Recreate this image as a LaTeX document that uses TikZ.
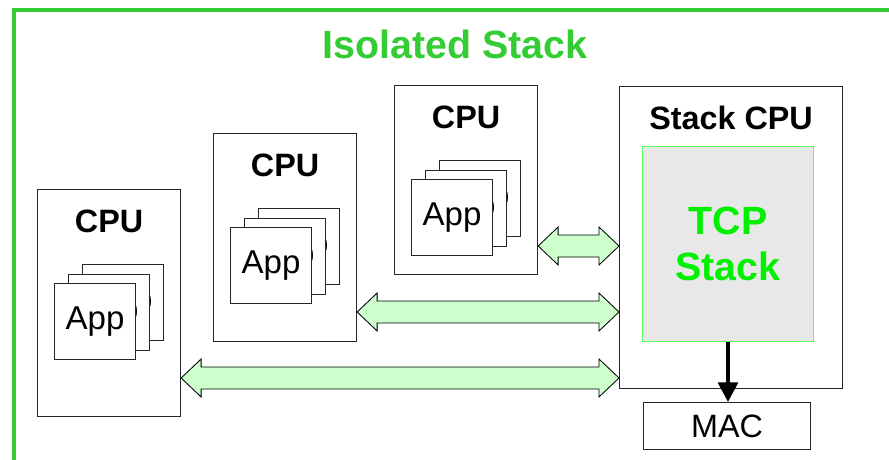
\documentclass[tikz,border=0pt]{standalone}
\usepackage{fontspec}
\setmainfont{Liberation Sans}
\usetikzlibrary{arrows.meta,calc}

\definecolor{frameGreen}{RGB}{51,204,51}
\definecolor{stackGreen}{RGB}{0,240,0}
\definecolor{stackBorder}{RGB}{90,255,90}
\definecolor{stackFill}{HTML}{E8E8E8}
\definecolor{linkFill}{HTML}{CCFFCC}

\newcommand{\pxUnit}{0.025cm}

% double block arrow between two tips on the same level
\newcommand{\linkArrow}[2]{%
  \draw[linkStyle] (#1) -- ($(#1)+(20,-19)$) -- ($(#1)+(20,-11)$) -- ($(#2)+(-20,-11)$)
    -- ($(#2)+(-20,-19)$) -- (#2) -- ($(#2)+(-20,19)$) -- ($(#2)+(-20,11)$)
    -- ($(#1)+(20,11)$) -- ($(#1)+(20,19)$) -- cycle;}

\tikzset{
  cpuBox/.style={draw=black!85, line width=0.8pt, fill=white, anchor=north west, inner sep=0pt},
  cpuLabel/.style={font=\bfseries\fontsize{23}{27}\selectfont, anchor=base, inner sep=0pt},
  appBox/.style={cpuBox, minimum width=81*\pxUnit, minimum height=76*\pxUnit, font=\fontsize{23.5}{28}\selectfont},
  linkStyle/.style={draw=black, line width=0.6pt, fill=linkFill, line join=miter},
}

\begin{document}
\begin{tikzpicture}[x=\pxUnit, y=-\pxUnit]
    \useasboundingbox (0,0) rectangle (889,460);

    % Frame and title
    \draw[frameGreen, line width=2.8pt, line join=miter] (14,460) -- (14,10) -- (889,10);
    \node[font=\bfseries\fontsize{28}{34}\selectfont, text=frameGreen, anchor=base] (title) at (455,58) {Isolated Stack};

    % Application CPUs
    \node[cpuBox, minimum width=143*\pxUnit, minimum height=227*\pxUnit] (cpuA) at (37,189) {};
    \node[cpuLabel] (cpuAlabel) at ($(cpuA.north)+(0,43)$) {CPU};
    \foreach \i in {2,1,0}
        \node[appBox] (appA\i) at ({54+14*\i},{283-9.5*\i}) {App};

    \node[cpuBox, minimum width=143*\pxUnit, minimum height=208*\pxUnit] (cpuB) at (213,133) {};
    \node[cpuLabel] (cpuBlabel) at ($(cpuB.north)+(0,43)$) {CPU};
    \foreach \i in {2,1,0}
        \node[appBox] (appB\i) at ({230+14*\i},{227-9.5*\i}) {App};

    \node[cpuBox, minimum width=143*\pxUnit, minimum height=189*\pxUnit] (cpuC) at (394,85) {};
    \node[cpuLabel] (cpuClabel) at ($(cpuC.north)+(0,43)$) {CPU};
    \foreach \i in {2,1,0}
        \node[appBox] (appC\i) at ({411+14*\i},{179-9.5*\i}) {App};

    % Stack CPU with the TCP stack
    \node[cpuBox, minimum width=223*\pxUnit, minimum height=302*\pxUnit] (stackCpu) at (619,86) {};
    \node[cpuLabel] (stackLabel) at ($(stackCpu.north)+(0,43)$) {Stack CPU};
    \node[cpuBox, draw=stackBorder, fill=stackFill, line width=0.7pt,
          minimum width=171*\pxUnit, minimum height=195*\pxUnit,
          align=center, text=stackGreen, font=\bfseries\fontsize{28}{33.3}\selectfont] (tcp) at (642,146) {TCP\\Stack};

    \node[cpuBox, minimum width=167*\pxUnit, minimum height=47*\pxUnit, font=\fontsize{23}{27}\selectfont] (mac) at (643,402) {MAC};
    \draw[line width=2.8pt, -{Triangle[width=14pt,length=14pt]}] (tcp.south) -- (tcp.south |- mac.north);

    % Links to the stack CPU
    \coordinate (levelA) at (0,246);
    \coordinate (levelB) at (0,312);
    \coordinate (levelC) at (0,378);
    \linkArrow{cpuC.east |- levelA}{stackCpu.west |- levelA}
    \linkArrow{cpuB.east |- levelB}{stackCpu.west |- levelB}
    \linkArrow{cpuA.east |- levelC}{stackCpu.west |- levelC}

\end{tikzpicture}
\end{document}
